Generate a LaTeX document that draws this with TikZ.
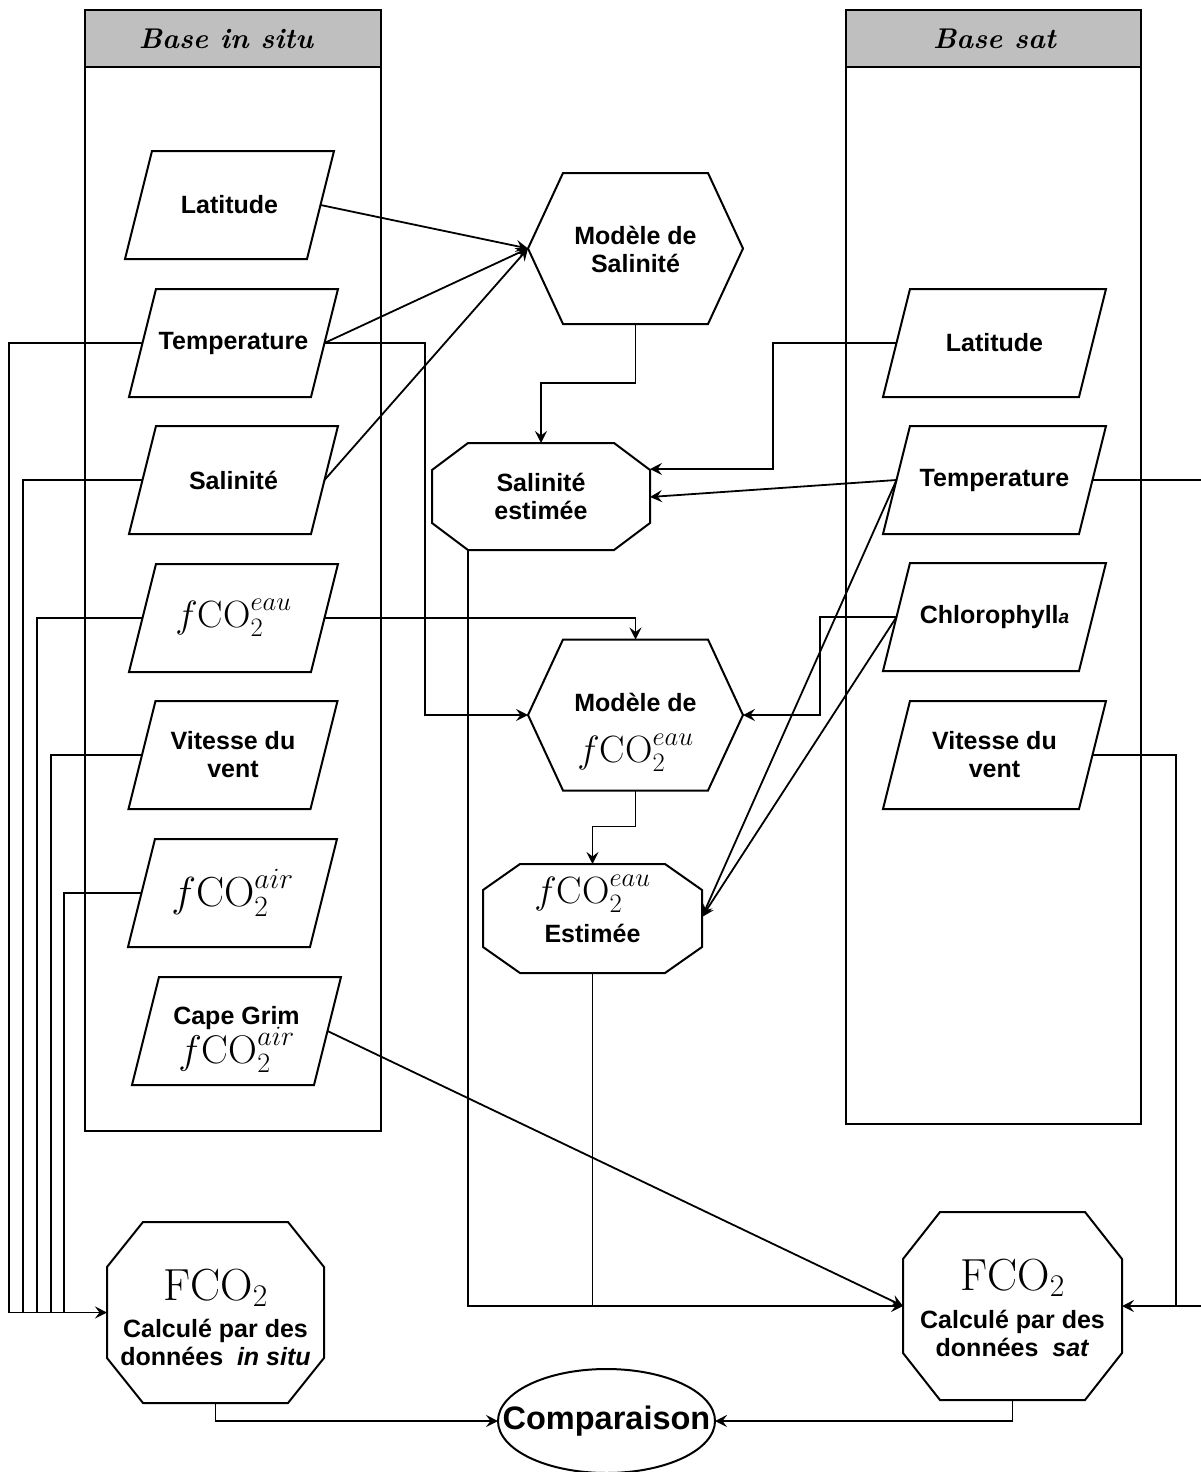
\RequirePackage{fix-cm}
\documentclass[tikz,border=0pt]{standalone}
\usepackage{fontspec}
\setsansfont{Liberation Sans}
\usetikzlibrary{calc,arrows.meta}
\newcommand{\tightlines}{\setlength{\lineskiplimit}{-60pt}}
\tikzset{
  shp/.style={draw, line width=2pt, line join=miter},
  ln/.style={line width=1.8pt},
  arr/.style={ln, -{Stealth[length=12pt,width=12pt,inset=4.5pt]}},
  ptext/.style={font=\fontsize{25}{28}\selectfont\sffamily\bfseries, align=center, inner sep=0pt, execute at begin node=\tightlines},
  htext/.style={font=\fontsize{28.5}{30}\selectfont\rmfamily\bfseries\itshape, inner sep=0pt},
  ctext/.style={font=\fontsize{32.5}{34}\selectfont\sffamily\bfseries, inner sep=0pt},
  hdr/.style={draw, line width=2pt, fill=black!25},
}
\newcommand{\mathsz}[2]{{\fontsize{#1}{#1}\selectfont$#2$}}
% parallelogram: [node options] name, x, y, top length, text
\newcommand{\parab}[6][]{%
  \node[ptext,#1] (#2) at (#3,#4) {#6};
  \draw[shp] ($(#3,#4)+({-#5/2+13.5},-54)$) -- ++(#5,0) -- ++(-27,108) -- ++(-#5,0) -- cycle;
  \coordinate (#2-w) at ($(#3,#4)+({-#5/2},0)$);
  \coordinate (#2-e) at ($(#3,#4)+({#5/2},0)$);
}
% octagon: name, x, y, half width, half height, horizontal cut, vertical cut
\newcommand{\octo}[7]{%
  \coordinate (#1) at (#2,#3);
  \draw[shp,shift={(#1)}] (-#4+#6,-#5) -- (#4-#6,-#5) -- (#4,-#5+#7) -- (#4,#5-#7) -- (#4-#6,#5) -- (-#4+#6,#5) -- (-#4,#5-#7) -- (-#4,-#5+#7) -- cycle;
}
% hexagon: name, x, y
\newcommand{\hexa}[3]{%
  \coordinate (#1) at (#2,#3);
  \draw[shp,shift={(#1)}] (-107.5,0) -- (-72.5,-75.5) -- (72.5,-75.5) -- (107.5,0) -- (72.5,75.5) -- (-72.5,75.5) -- cycle;
  \coordinate (#1-w) at ($(#1)+(-107.5,0)$);
  \coordinate (#1-e) at ($(#1)+(107.5,0)$);
  \coordinate (#1-n) at ($(#1)+(0,-75.5)$);
  \coordinate (#1-s) at ($(#1)+(0,75.5)$);
}
\begin{document}
\begin{tikzpicture}[x=1pt,y=-1pt]
\useasboundingbox (0,0) rectangle (1201,1472);
\clip (0,0) rectangle (1201,1472);
\fill[white] (0,0) rectangle (1201,1472);

% containers
\draw[shp] (85,10) rectangle (381,1131);
\draw[hdr] (85,10) rectangle (381,67);
\node[htext] (hL) at (226,39) {Base in situ};
\draw[shp] (846,10) rectangle (1141,1124);
\draw[hdr] (846,10) rectangle (1141,67);
\node[htext] (hR) at (994.5,39) {Base sat};

% left inputs
\parab{lLat}{229.5}{205}{182}{Latitude}
\parab{lTemp}{233.5}{343}{182}{Temperature}
\parab{lSal}{233.5}{480}{182}{Salinité}
\parab{lFeau}{233.5}{618}{182}{\mathsz{38}{f\mathrm{CO}_2^{eau}}}
\parab{lVit}{233}{755}{182}{Vitesse du\\vent}
\parab{lFair}{232.5}{893}{182}{\mathsz{42}{f\mathrm{CO}_2^{air}}}
\parab[anchor=base,yshift=-32pt]{lCape}{236.5}{1031}{182}{Cape Grim\\[11pt]\mathsz{40}{f\mathrm{CO}_2^{air}}}

% right inputs
\parab{rLat}{994.5}{343}{196}{Latitude}
\parab{rTemp}{994.5}{480}{196}{Temperature}
\parab{rChl}{994.5}{617}{196}{Chlorophyll{\fontsize{19}{19}\selectfont\itshape a}}
\parab{rVit}{994.5}{755}{196}{Vitesse du\\vent}

% models
\hexa{mSal}{635.5}{248.5}
\node[ptext] (mSal-t) at (635.5,249.5) {Modèle de\\Salinité};
\hexa{mF}{635.5}{715}
\node[ptext,anchor=base] (mF-t) at (635.5,762) {Modèle de\\[23pt]\mathsz{38}{f\mathrm{CO}_2^{eau}}};

% estimates
\octo{sEst}{541}{496.5}{109}{53.5}{36}{27}
\node[ptext] (sEst-t) at (541,496.5) {Salinité\\estimée};
\coordinate (sEst-n) at ($(sEst)+(0,-53.5)$);
\coordinate (sEst-e1) at ($(sEst)+(109,-27.5)$);
\coordinate (sEst-e2) at ($(sEst)+(109,0.5)$);
\coordinate (sEst-sw) at ($(sEst)+(-73,53.5)$);

\octo{fEst}{592.5}{918.5}{109.5}{54.5}{37}{26}
\node[ptext,anchor=base] (fEst-t) at (592.5,942) {\mathsz{38}{f\mathrm{CO}_2^{eau}}\\[11pt]Estimée};
\coordinate (fEst-n) at ($(fEst)+(0,-54.5)$);
\coordinate (fEst-e) at ($(fEst)+(109.5,-1.5)$);
\coordinate (fEst-s) at ($(fEst)+(0,54.5)$);

% flux
\octo{fIS}{215.5}{1312.5}{108.5}{90.5}{36}{45}
\node[ptext,anchor=base] (fIS-t) at (215.5,1365) {\mathsz{45}{\mathrm{FCO}_2}\\[9pt]Calculé par des\\données\ \ \textit{in situ}};
\coordinate (fIS-w) at ($(fIS)+(-108.5,0)$);
\coordinate (fIS-s) at ($(fIS)+(0,90.5)$);

\octo{fSat}{1012.5}{1306}{109.5}{94}{37}{47}
\node[ptext,anchor=base] (fSat-t) at (1012.5,1356) {\mathsz{45}{\mathrm{FCO}_2}\\[10pt]Calculé par des\\données\ \ \textit{sat}};
\coordinate (fSat-w) at ($(fSat)+(-109.5,0)$);
\coordinate (fSat-e) at ($(fSat)+(109.5,0)$);
\coordinate (fSat-s) at ($(fSat)+(0,94)$);

% comparison
\node[ctext] (Comp) at (606.5,1421) {Comparaison};
\draw[shp] (Comp.center) ellipse [x radius=108.5pt, y radius=52pt];
\coordinate (Comp-w) at ($(Comp.center)+(-108.5,0)$);
\coordinate (Comp-e) at ($(Comp.center)+(108.5,0)$);

% connectors to salinity model
\draw[arr] (lLat-e) -- (mSal-w);
\draw[arr] (lTemp-e) -- (mSal-w);
\draw[arr] (lSal-e) -- (mSal-w);
\draw[arr] (mSal-s) -- ++(0,59) -| (sEst-n);
\draw[arr] (rLat-w) -| ($(sEst-e1)+(123,0)$) -- (sEst-e1);
\draw[arr] (rTemp-w) -- (sEst-e2);

% connectors to fCO2 model
\draw[arr] (lFeau-e) -| (mF-n);
\draw[arr] (lTemp-e) -| ($(mF-w)+(-103,0)$) -- (mF-w);
\draw[arr] (rChl-w) -| ($(mF-e)+(77,0)$) -- (mF-e);
\draw[arr] (mF-s) -- ++(0,36) -| (fEst-n);
\draw[arr] (rTemp-w) -- (fEst-e);
\draw[arr] (rChl-w) -- (fEst-e);

% to FCO2 sat
\draw[arr] (sEst-sw) |- (fSat-w);
\draw[ln] (fEst-s) -- (fEst-s |- fSat-w);
\draw[arr] (lCape-e) -- (fSat-w);
\draw[arr] (rTemp-e) -- ++(140,0) |- (fSat-e);
\draw[ln] (rVit-e) -| ($(fSat-e)+(54,0)$);

% to FCO2 in situ
\draw[arr] (lTemp-w) -| ($(fIS-w)+(-98,0)$) -- (fIS-w);
\draw[ln] (lSal-w) -| ($(fIS-w)+(-84,0)$);
\draw[ln] (lFeau-w) -| ($(fIS-w)+(-70,0)$);
\draw[ln] (lVit-w) -| ($(fIS-w)+(-56,0)$);
\draw[ln] (lFair-w) -| ($(fIS-w)+(-43,0)$);

% comparison
\draw[arr] (fIS-s) |- (Comp-w);
\draw[arr] (fSat-s) |- (Comp-e);
\end{tikzpicture}
\end{document}
